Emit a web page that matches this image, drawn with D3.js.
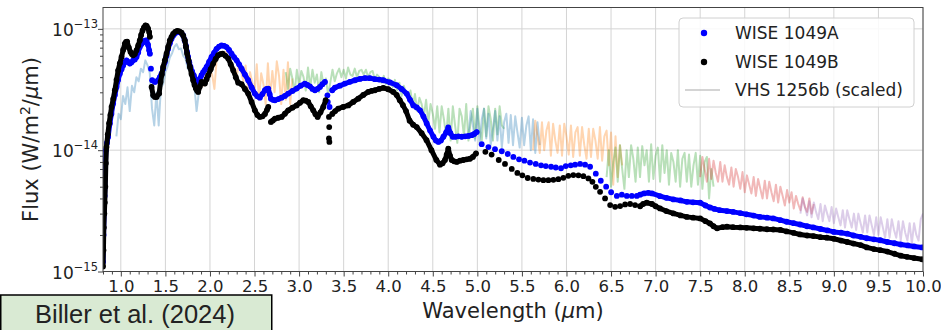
<!DOCTYPE html>
<html>
<head>
<meta charset="utf-8">
<script src="https://cdn.jsdelivr.net/npm/d3@7"></script>
<style>
  body { margin: 0; background: #fff; }
  svg { display: block; }
  text { font-family: "DejaVu Sans", sans-serif; fill: #222; }
</style>
</head>
<body>
<div id="chart"></div>
<script>
// ---------------------------------------------------------------------------
// WISE 1049AB spectra vs VHS 1256b — flux values in units of 1e-14 W/m^2/um
// ---------------------------------------------------------------------------
const UNIT = 1e-14;

// WISE 1049A (blue dots) — dense runs drawn as a thick dotted band
const wiseA_nir1 = [[0.800,0.12],[0.806,0.2],[0.812,0.3],[0.818,0.42],[0.824,0.6],[0.832,1.0],[0.845,1.15],[0.858,1.29],[0.877,1.66],[0.895,2.0],[0.914,2.42],[0.933,2.85],[0.952,3.32],[0.970,3.8],[0.989,4.27],[1.008,4.65],[1.026,5.0],[1.045,5.3],[1.064,5.5],[1.082,5.35],[1.101,5.17],[1.120,5.3],[1.138,5.5],[1.157,5.6],[1.176,5.86],[1.195,6.4],[1.213,7.08],[1.232,7.5],[1.250,7.77],[1.270,8.0],[1.288,8.05],[1.305,7.4],[1.318,6.65],[1.326,6.24]];
const wiseA_nir2 = [[1.352,3.77],[1.382,3.65],[1.419,3.77],[1.438,4.0],[1.457,4.27],[1.475,4.7],[1.494,5.33],[1.512,6.0],[1.531,6.85],[1.550,7.6],[1.569,8.3],[1.593,8.9],[1.617,9.27],[1.640,9.4],[1.662,9.4],[1.680,9.2],[1.699,8.84],[1.715,8.1],[1.729,7.3],[1.742,6.5],[1.755,5.86],[1.768,5.3],[1.782,4.85],[1.800,4.45],[1.819,4.14],[1.834,3.85],[1.849,3.65],[1.868,3.75],[1.887,3.89],[1.905,4.15],[1.924,4.4],[1.943,4.6],[1.962,4.85],[1.990,5.35],[2.018,5.86],[2.046,6.35],[2.074,6.85],[2.102,7.15],[2.130,7.3],[2.158,7.25],[2.186,7.08],[2.214,6.7],[2.242,6.24],[2.270,5.85],[2.299,5.5],[2.327,5.1],[2.355,4.7],[2.392,4.2],[2.429,3.77],[2.467,3.3],[2.504,2.93],[2.532,2.78],[2.560,2.71],[2.588,2.9],[2.617,3.12],[2.635,3.2],[2.654,3.22],[2.670,2.9],[2.684,2.66],[2.706,2.6],[2.729,2.58],[2.767,2.64],[2.804,2.71],[2.841,2.8],[2.878,2.93],[2.925,3.08],[2.972,3.22],[3.018,3.4],[3.065,3.54],[3.093,3.45],[3.121,3.36],[3.150,3.2],[3.178,3.12],[3.206,3.2],[3.234,3.32],[3.262,3.5],[3.290,3.65]];
const wiseA_mir1 = [[3.372,3.12],[3.402,3.28],[3.458,3.4],[3.514,3.54],[3.570,3.66],[3.627,3.77],[3.683,3.87],[3.739,3.93],[3.795,3.92],[3.851,3.85],[3.898,3.82],[3.945,3.77],[4.020,3.62],[4.095,3.43],[4.150,3.2],[4.207,2.93],[4.245,2.6],[4.282,2.34],[4.320,2.25],[4.357,2.13],[4.395,1.9],[4.432,1.66],[4.470,1.45],[4.507,1.29],[4.535,1.2],[4.563,1.17],[4.591,1.2],[4.619,1.29],[4.650,1.4],[4.674,1.54],[4.698,1.38],[4.723,1.29],[4.755,1.29],[4.787,1.30],[4.825,1.29],[4.862,1.30],[4.900,1.31],[4.937,1.33],[4.965,1.36],[4.993,1.41]];
const wiseA_mir2 = [[6.826,0.43],[6.87,0.44],[6.92,0.445],[6.96,0.44],[7.05,0.418],[7.12,0.405],[7.2,0.393],[7.28,0.385],[7.35,0.375],[7.42,0.372],[7.5,0.369],[7.56,0.35],[7.61,0.337],[7.66,0.328],[7.72,0.32],[7.8,0.315],[7.87,0.31],[7.95,0.303],[8.02,0.296],[8.1,0.289],[8.17,0.282],[8.25,0.278],[8.32,0.274],[8.40,0.265],[8.47,0.257],[8.55,0.25],[8.62,0.244],[8.70,0.236],[8.77,0.231],[8.85,0.224],[8.93,0.218],[9.0,0.212],[9.08,0.209],[9.15,0.205],[9.22,0.198],[9.30,0.193],[9.37,0.188],[9.45,0.184],[9.52,0.181],[9.6,0.175],[9.68,0.171],[9.75,0.167],[9.83,0.164],[9.9,0.161],[9.99,0.158]];
// isolated dots (telluric gap, 3.3 um dip, sparse 5-6.8 um run)
const wiseA_dots = [[1.338,4.7],[3.318,2.83],[3.322,2.5],[3.342,2.27],[5.049,1.12],[5.124,1.06],[5.198,1.02],[5.274,0.98],[5.341,0.93],[5.404,0.88],[5.468,0.84],[5.528,0.82],[5.591,0.79],[5.655,0.77],[5.715,0.75],[5.768,0.74],[5.827,0.73],[5.880,0.72],[5.939,0.71],[5.992,0.74],[6.048,0.75],[6.097,0.76],[6.153,0.77],[6.209,0.76],[6.265,0.73],[6.329,0.64],[6.385,0.56],[6.445,0.50],[6.501,0.45],[6.565,0.42],[6.621,0.43],[6.677,0.42],[6.733,0.42],[6.789,0.42]];

// WISE 1049B (black dots)
const wiseB_nir1 = [[0.800,0.11],[0.805,0.15],[0.809,0.23],[0.815,0.30],[0.820,0.37],[0.826,0.50],[0.832,0.78],[0.839,1.06],[0.854,1.35],[0.869,1.67],[0.883,1.95],[0.896,2.27],[0.915,2.65],[0.933,3.12],[0.952,3.8],[0.970,4.55],[0.989,5.2],[1.008,5.86],[1.026,6.7],[1.045,7.54],[1.058,7.8],[1.071,7.85],[1.090,7.0],[1.109,6.44],[1.124,6.2],[1.138,6.06],[1.157,6.2],[1.176,6.65],[1.195,7.3],[1.213,8.05],[1.228,8.9],[1.244,9.7],[1.260,10.3],[1.277,10.7],[1.290,10.6],[1.305,10.1],[1.318,9.4],[1.326,8.6]];
const wiseB_nir2 = [[1.345,3.32],[1.363,2.83],[1.382,2.75],[1.401,2.75],[1.430,2.93],[1.446,3.65],[1.460,4.2],[1.475,4.85],[1.494,5.5],[1.513,6.24],[1.531,7.1],[1.550,8.05],[1.569,8.6],[1.587,9.1],[1.610,9.45],[1.632,9.6],[1.656,9.55],[1.681,9.3],[1.700,8.8],[1.718,8.05],[1.731,7.1],[1.744,6.24],[1.760,5.5],[1.775,4.85],[1.793,4.25],[1.812,3.77],[1.827,3.45],[1.842,3.22],[1.855,3.1],[1.868,3.02],[1.887,3.35],[1.906,3.65],[1.925,3.6],[1.943,3.54],[1.962,3.85],[1.980,4.14],[2.008,4.65],[2.036,5.17],[2.064,5.65],[2.092,6.06],[2.117,6.2],[2.142,6.24],[2.174,6.0],[2.205,5.69],[2.233,5.1],[2.261,4.55],[2.290,4.0],[2.317,3.6],[2.355,3.5],[2.392,3.2],[2.429,2.93],[2.467,2.5],[2.504,2.13],[2.532,1.95],[2.560,1.88],[2.590,1.9],[2.617,1.99],[2.640,2.15],[2.654,2.27]];
const wiseB_nir3 = [[2.684,1.71],[2.706,1.76],[2.729,1.82],[2.767,1.85],[2.804,1.88],[2.841,2.0],[2.878,2.13],[2.925,2.24],[2.972,2.34],[3.010,2.46],[3.047,2.58],[3.075,2.56],[3.103,2.50],[3.131,2.3],[3.159,2.13],[3.184,1.98],[3.208,1.88],[3.240,2.05],[3.271,2.27],[3.298,2.58]];
const wiseB_mir1 = [[3.372,1.99],[3.405,2.1],[3.439,2.20],[3.495,2.27],[3.552,2.34],[3.608,2.5],[3.664,2.66],[3.720,2.85],[3.776,3.02],[3.814,3.08],[3.851,3.12],[3.898,3.2],[3.945,3.26],[4.000,3.18],[4.057,3.02],[4.095,2.85],[4.130,2.58],[4.165,2.35],[4.200,2.1],[4.240,1.75],[4.280,1.62],[4.320,1.55],[4.375,1.38],[4.430,1.21],[4.485,1.0],[4.540,0.83],[4.581,0.76],[4.610,0.78],[4.637,0.83],[4.656,0.92],[4.674,1.03],[4.693,0.9],[4.712,0.83],[4.740,0.81],[4.769,0.80],[4.806,0.82],[4.843,0.83],[4.880,0.84],[4.918,0.85],[4.950,0.88],[4.985,0.94]];
const wiseB_mir2 = [[6.826,0.345],[6.86,0.36],[6.90,0.369],[6.96,0.36],[7.0,0.345],[7.05,0.331],[7.12,0.315],[7.2,0.301],[7.28,0.29],[7.35,0.282],[7.42,0.278],[7.5,0.274],[7.56,0.26],[7.61,0.249],[7.65,0.236],[7.69,0.227],[7.75,0.232],[7.80,0.234],[7.87,0.232],[7.95,0.231],[8.02,0.229],[8.1,0.227],[8.17,0.225],[8.25,0.223],[8.32,0.222],[8.40,0.22],[8.47,0.214],[8.55,0.208],[8.62,0.202],[8.70,0.198],[8.77,0.196],[8.85,0.192],[8.92,0.19],[9.0,0.186],[9.08,0.18],[9.15,0.175],[9.22,0.17],[9.3,0.165],[9.37,0.158],[9.45,0.153],[9.52,0.15],[9.6,0.146],[9.68,0.14],[9.75,0.135],[9.82,0.132],[9.9,0.129],[9.99,0.126]];
const wiseB_dots = [[3.335,1.88],[3.338,1.55],[3.335,1.25],[3.340,1.17],[5.09,0.97],[5.16,0.92],[5.24,0.83],[5.31,0.77],[5.386,0.70],[5.449,0.65],[5.505,0.62],[5.565,0.59],[5.628,0.58],[5.685,0.572],[5.741,0.566],[5.797,0.566],[5.853,0.57],[5.909,0.577],[5.965,0.592],[6.021,0.615],[6.077,0.623],[6.134,0.62],[6.19,0.611],[6.246,0.585],[6.291,0.549],[6.329,0.499],[6.377,0.454],[6.433,0.40],[6.49,0.353],[6.546,0.341],[6.602,0.346],[6.658,0.357],[6.714,0.36],[6.77,0.353]];

// VHS 1256b (scaled): eight spectral pieces sampled every 0.025 um
const vhsStep = 0.025;
const vhsStart = [0.950, 1.750, 2.850, 4.900, 5.625, 6.450, 7.500, 8.625];
const vhs1 = [1.3,2.0,1.8,2.8,2.4,3.3,2.1,3.4,3.0,4.0,3.7,4.7,4.4,5.5,5.0,4.3,2.2,1.6,3.0,1.6,3.3,3.5,4.4,4.9,5.8,6.3,7.1,7.5,6.8,6.9,6.0,5.7,4.7,4.5,3.5,3.4,2.1,3.0];
const vhs2 = [6.0,5.0,4.3,3.6,3.4,3.1,3.8,3.4,4.2,3.9,4.6,4.2,3.2,5.6,5.9,6.4,6.2,6.5,5.9,5.7,5.0,4.8,
  4.1,5.3,4.4,3.7,5.0,3.2,4.4,3.6,2.9,5.1,2.6,4.3,3.5,2.4,5.2,2.7,4.5,3.0,5.4,4.1,2.4,4.6,2.6,5.3,2.4,3.9];
const vhs3 = [4.4,3.2,4.7,3.9,3.0,4.6,3.4,4.5,4.0,3.1,4.8,3.3,4.6,3.6,4.2,3.0,
  4.4,3.4,3.9,2.9,
  3.6,4.6,3.7,4.3,4.7,4.0,4.6,3.9,4.8,4.2,4.1,4.7,4.0,4.5,4.6,4.2,4.6,4.0,4.4,4.5,
  3.8,4.2,4.0,3.6,4.1,3.5,3.9,3.7,3.3,3.8,3.1,3.6,2.8,3.4,3.0,2.6,
  3.1,2.3,2.9,2.1,2.7,2.4,1.9,2.6,1.7,2.4,2.0,1.5,
  2.3,1.4,2.3,1.8,1.3,2.2,1.2,2.3,1.6,1.15,2.2,1.9,1.3,2.4,1.2,1.7,2.2,1.25,2.3,1.5,1.2,2.2,1.3,2.3,1.8,1.2,2.2,1.35,2.3,1.6,1.5];
const vhs4 = [1.3,2.1,1.6,1.2,2.2,1.1,1.8,2.2,1.25,2.0,1.1,1.5,2.1,1.2,1.9,1.05,1.7,2.0,1.15,1.95,1.1,1.9,1.4,1.05,1.85,1.1,1.6,1.9,1.0,1.8,0.95,1.7,1.1];
const vhs5 = [1.0,1.75,1.3,0.95,1.7,1.0,1.45,1.7,0.9,1.65,1.2,0.95,1.6,0.9,1.65,1.3,0.92,1.6,0.88,1.4,1.55,0.9,1.55,1.1,0.85,1.5,0.88,1.5,1.2,0.85,1.55,0.82,1.3,1.45,0.75,1.4,0.52,1.3,0.6,1.1,0.75];
const vhs6 = [0.6,1.0,0.5,0.8,1.05,0.55,1.1,0.7,0.48,1.0,0.6,1.1,0.85,0.55,1.05,0.6,1.08,0.75,1.0,0.55,1.12,0.58,0.9,1.05,0.55,1.1,0.65,1.0,0.52,0.95,0.8,0.55,1.0,0.5,0.85,0.95,0.55,0.92,0.5,0.75,0.95,0.52,0.9,0.48,0.8,0.88,0.4,0.7,0.5];
const vhs7 = [0.6,0.88,0.7,0.55,0.85,0.58,0.82,0.65,0.55,0.8,0.55,0.75,0.6,0.52,0.72,0.5,0.7,0.6,0.48,0.66,0.45,0.62,0.52,0.44,0.6,0.42,0.58,0.48,0.4,0.56,0.4,0.55,0.45,0.38,0.52,0.37,0.5,0.42,0.35,0.47,0.37,0.45,0.33,0.42,0.36,0.32,0.41,0.34,0.31,0.4,0.3,0.36];
const vhs8 = [0.3,0.4,0.34,0.29,0.38,0.28,0.37,0.31,0.27,0.36,0.26,0.35,0.3,0.26,0.34,0.25,0.33,0.28,0.24,0.32,0.23,0.32,0.27,0.23,0.3,0.22,0.3,0.25,0.21,0.29,0.21,0.29,0.24,0.2,0.28,0.2,0.28,0.23,0.19,0.27,0.19,0.27,0.22,0.19,0.26,0.18,0.26,0.21,0.18,0.25,0.17,0.25,0.2,0.18,0.27,0.3];
const vhsPieces = [vhs1, vhs2, vhs3, vhs4, vhs5, vhs6, vhs7, vhs8];
const vhsColors = ['#1f77b4', '#ff7f0e', '#2ca02c', '#1f77b4', '#ff7f0e', '#2ca02c', '#d62728', '#9467bd'];

const xTicks = d3.range(2, 21).map((k) => k / 2);
const yTicks = [1e-15, 1e-14, 1e-13];
const legendItems = ['WISE 1049A', 'WISE 1049B', 'VHS 1256b (scaled)'];

// ---------------------------------------------------------------------------
const W = 941, H = 330;
const plot = { left: 103, right: 923, top: 7.5, bottom: 271.5 };

const svg = d3.select('#chart').append('svg').attr('width', W).attr('height', H);

const x = d3.scaleLinear().domain([0.8, 10.0]).range([plot.left, plot.right]);
const y = d3.scaleLog().domain([1e-15, 1.5e-13]).range([plot.bottom, plot.top]);
const line = d3.line().x((d) => x(d[0])).y((d) => y(d[1] * UNIT));

svg.append('clipPath').attr('id', 'clip').append('rect')
  .attr('x', plot.left).attr('y', plot.top)
  .attr('width', plot.right - plot.left).attr('height', plot.bottom - plot.top);

// grid
const grid = svg.append('g').attr('stroke', '#d4d4d4').attr('stroke-width', 1);
grid.selectAll('line.gx').data(xTicks).join('line').attr('class', 'gx')
  .attr('x1', (d) => x(d)).attr('x2', (d) => x(d))
  .attr('y1', plot.top).attr('y2', plot.bottom);
grid.selectAll('line.gy').data(yTicks.slice(1)).join('line').attr('class', 'gy')
  .attr('x1', plot.left).attr('x2', plot.right)
  .attr('y1', (d) => y(d)).attr('y2', (d) => y(d));

const g = svg.append('g').attr('clip-path', 'url(#clip)');

// VHS 1256b pieces (single path each, so alpha does not stack on itself)
vhsPieces.forEach((flux, i) => {
  const pts = flux.map((f, k) => [vhsStart[i] + k * vhsStep, f]);
  g.append('path').datum(pts)
    .attr('d', line).attr('fill', 'none')
    .attr('stroke', vhsColors[i]).attr('stroke-opacity', 0.33)
    .attr('stroke-width', 2).attr('stroke-linejoin', 'round');
});

function drawSeries(runs, dots, color) {
  runs.forEach((run) => {
    g.append('path').datum(run)
      .attr('d', line).attr('fill', 'none').attr('stroke', color)
      .attr('stroke-width', 5).attr('stroke-linejoin', 'round').attr('stroke-linecap', 'round');
    g.append('g').selectAll('circle').data(run).join('circle')
      .attr('cx', (d) => x(d[0])).attr('cy', (d) => y(d[1] * UNIT))
      .attr('r', 2.9).attr('fill', color);
  });
  g.append('g').selectAll('circle').data(dots).join('circle')
    .attr('cx', (d) => x(d[0])).attr('cy', (d) => y(d[1] * UNIT))
    .attr('r', 2.9).attr('fill', color);
}
drawSeries([wiseA_nir1, wiseA_nir2, wiseA_mir1, wiseA_mir2], wiseA_dots, '#0000ff');
drawSeries([wiseB_nir1, wiseB_nir2, wiseB_nir3, wiseB_mir1, wiseB_mir2], wiseB_dots, '#000000');

// frame
svg.append('rect').attr('x', plot.left).attr('y', plot.top)
  .attr('width', plot.right - plot.left).attr('height', plot.bottom - plot.top)
  .attr('fill', 'none').attr('stroke', '#444').attr('stroke-width', 1);

// x axis
const xAxis = svg.append('g').attr('transform', `translate(0,${plot.bottom})`)
  .call(d3.axisBottom(x).tickValues(xTicks).tickSize(5).tickPadding(4).tickFormat(d3.format('.1f')));
xAxis.select('.domain').remove();
xAxis.selectAll('text').style('font-size', '16.5px').attr('fill', '#222');
xAxis.selectAll('line').attr('stroke', '#444');
const xMinor = svg.append('g').attr('transform', `translate(0,${plot.bottom})`)
  .call(d3.axisBottom(x).tickValues(d3.range(8, 101).map((k) => k / 10).filter((v) => Math.round(v * 10) % 5 !== 0)).tickSize(3).tickFormat(''));
xMinor.select('.domain').remove();
xMinor.selectAll('line').attr('stroke', '#444');

// y axis
const yAxis = svg.append('g').attr('transform', `translate(${plot.left},0)`)
  .call(d3.axisLeft(y).tickValues(yTicks).tickSize(5).tickFormat(''));
yAxis.select('.domain').remove();
yAxis.selectAll('line').attr('stroke', '#444');
const yMinorVals = [];
[1e-15, 1e-14].forEach((dec) => { for (let m = 2; m <= 9; m++) yMinorVals.push(m * dec); });
const yMinor = svg.append('g').attr('transform', `translate(${plot.left},0)`)
  .call(d3.axisLeft(y).tickValues(yMinorVals).tickSize(3).tickFormat(''));
yMinor.select('.domain').remove();
yMinor.selectAll('line').attr('stroke', '#444');

const yLab = svg.append('g').selectAll('text').data(yTicks).join('text')
  .attr('x', 98).attr('y', (d) => y(d) + 7)
  .attr('text-anchor', 'end').style('font-size', '17px');
yLab.append('tspan').text('10');
yLab.append('tspan').attr('dy', -8).style('font-size', '11.5px')
  .text((d) => '\u2212' + Math.round(-Math.log10(d)));

// axis titles
const xt = svg.append('text').attr('x', 513).attr('y', 318).attr('text-anchor', 'middle').style('font-size', '21px');
xt.append('tspan').text('Wavelength (');
xt.append('tspan').style('font-style', 'italic').text('\u03bc');
xt.append('tspan').text('m)');

const yt = svg.append('text').attr('transform', `translate(38,${(plot.top + plot.bottom) / 2}) rotate(-90)`)
  .attr('text-anchor', 'middle').style('font-size', '21px');
yt.append('tspan').text('Flux (W/m');
yt.append('tspan').attr('dy', -8).style('font-size', '14px').text('2');
yt.append('tspan').attr('dy', 8).text('/');
yt.append('tspan').style('font-style', 'italic').text('\u03bc');
yt.append('tspan').text('m)');

// legend
const lg = svg.append('g');
lg.append('rect').attr('x', 679).attr('y', 18).attr('width', 235).attr('height', 89).attr('rx', 4)
  .attr('fill', '#fff').attr('fill-opacity', 0.85).attr('stroke', '#d0d0d0');
const rows = [33, 62, 90];
lg.append('circle').attr('cx', 704).attr('cy', rows[0]).attr('r', 3.2).attr('fill', '#0000ff');
lg.append('circle').attr('cx', 704).attr('cy', rows[1]).attr('r', 3.2).attr('fill', '#000');
lg.append('line').attr('x1', 685).attr('x2', 720).attr('y1', rows[2]).attr('y2', rows[2])
  .attr('stroke', '#aaa').attr('stroke-width', 1.2);
lg.selectAll('text').data(legendItems).join('text')
  .attr('x', 735).attr('y', (d, i) => rows[i] + 6).style('font-size', '17px').text((d) => d);

// citation box
svg.append('rect').attr('x', 0.75).attr('y', 295).attr('width', 271).attr('height', 40)
  .attr('fill', '#d9ead3').attr('stroke', '#000').attr('stroke-width', 1.5);
svg.append('text').attr('x', 35).attr('y', 323).attr('textLength', 200).attr('lengthAdjust', 'spacingAndGlyphs')
  .style('font-family', '"Liberation Sans", Arial, sans-serif').style('font-size', '25px').attr('fill', '#000')
  .text('Biller et al. (2024)');
</script>
</body>
</html>
